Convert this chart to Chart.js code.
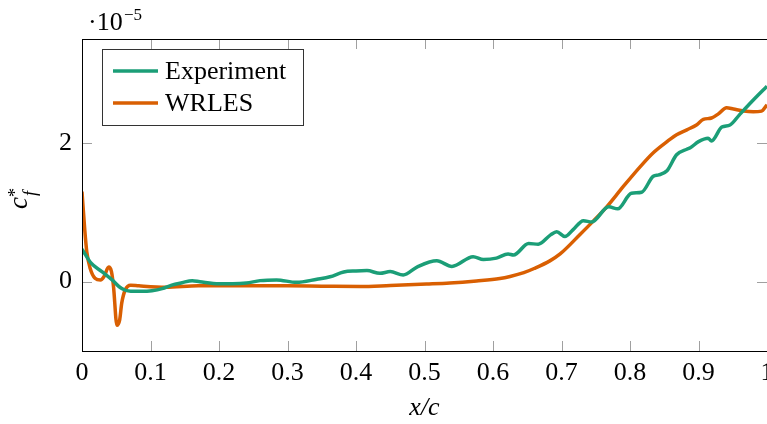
<!DOCTYPE html>
<html><head><meta charset="utf-8">
<script src="https://cdn.jsdelivr.net/npm/chart.js@4/dist/chart.umd.min.js"></script>
<style>html,body{margin:0;padding:0;background:#fff;overflow:hidden}canvas{display:block}</style>
</head><body>
<canvas id="c" width="767" height="424" style="width:767px;height:424px"></canvas>
<script>
// ---- data (c_f^* in units of 1e-5) ----
const xExp = [0,0.013,0.029,0.044,0.058,0.071,0.088,0.102,0.117,0.131,0.146,0.161,0.172,0.2,0.22,0.24,0.26,0.284,0.313,0.343,0.362,0.382,0.40,0.416,0.435,0.45,0.469,0.489,0.518,0.540,0.571,0.586,0.605,0.622,0.63,0.652,0.666,0.684,0.693,0.705,0.717,0.732,0.744,0.769,0.782,0.802,0.817,0.834,0.842,0.854,0.868,0.883,0.888,0.900,0.914,0.919,0.934,0.946,0.96,0.98,1.0];
const yExp = [0.47,0.27,0.145,0.025,-0.1,-0.14,-0.14,-0.13,-0.1,-0.05,-0.015,0.015,0.0,-0.03,-0.03,-0.02,0.015,0.025,-0.01,0.035,0.07,0.14,0.155,0.16,0.12,0.145,0.097,0.21,0.30,0.22,0.36,0.32,0.34,0.40,0.385,0.55,0.54,0.675,0.72,0.65,0.75,0.88,0.86,1.08,1.05,1.275,1.29,1.52,1.54,1.60,1.83,1.91,1.93,2.02,2.07,2.03,2.23,2.26,2.41,2.62,2.82];
const xLes = [0,0.004,0.007,0.012,0.019,0.027,0.032,0.039,0.043,0.046,0.051,0.055,0.058,0.063,0.071,0.083,0.122,0.17,0.245,0.3,0.35,0.406,0.45,0.503,0.537,0.576,0.61,0.625,0.645,0.66,0.683,0.698,0.727,0.747,0.766,0.790,0.815,0.834,0.854,0.868,0.883,0.897,0.907,0.919,0.929,0.941,0.951,0.966,0.980,0.992,1.0];
const yLes = [1.3,0.75,0.43,0.19,0.05,0.025,0.07,0.21,0.145,-0.07,-0.63,-0.55,-0.31,-0.12,-0.05,-0.06,-0.08,-0.06,-0.06,-0.06,-0.065,-0.07,-0.055,-0.035,-0.02,0.01,0.045,0.075,0.13,0.19,0.3,0.4,0.68,0.88,1.08,1.37,1.66,1.86,2.02,2.12,2.19,2.26,2.34,2.36,2.42,2.51,2.49,2.46,2.45,2.46,2.55];
const seriesNames = ['Experiment','WRLES'];
const seriesColors = ['#1b9e77','#d95f02'];
const xTicks = [0,0.1,0.2,0.3,0.4,0.5,0.6,0.7,0.8,0.9,1];
const yTicks = [0,2];

const SERIF = '"Liberation Serif","DejaVu Serif",serif';

const framePlugin = {
  id:'frame',
  beforeDatasetsDraw(chart){
    const {ctx, chartArea:a, scales} = chart;
    ctx.save();
    ctx.strokeStyle = '#a0a0a0'; ctx.lineWidth = 1;
    ctx.beginPath();
    xTicks.forEach(v=>{
      const px = Math.round(scales.x.getPixelForValue(v)) + 0.5;
      ctx.moveTo(px, a.bottom); ctx.lineTo(px, a.bottom-10);
      ctx.moveTo(px, a.top); ctx.lineTo(px, a.top+10);
    });
    yTicks.forEach(v=>{
      const py = Math.round(scales.y.getPixelForValue(v)) + 0.5;
      ctx.moveTo(a.left, py); ctx.lineTo(a.left+10, py);
      ctx.moveTo(a.right, py); ctx.lineTo(a.right-10, py);
    });
    ctx.stroke();
    ctx.restore();
  },
  afterDatasetsDraw(chart){
    const {ctx, chartArea:a} = chart;
    ctx.save();
    ctx.strokeStyle = '#000'; ctx.lineWidth = 1;
    ctx.strokeRect(Math.round(a.left)+0.5, Math.round(a.top)+0.5, Math.round(a.right-a.left), Math.round(a.bottom-a.top));
    ctx.restore();
  },
  afterDraw(chart){
    const {ctx} = chart;
    ctx.save();
    // legend
    ctx.fillStyle = '#fff'; ctx.fillRect(102.5,49.5,201,76);
    ctx.strokeStyle = '#333'; ctx.lineWidth = 1; ctx.strokeRect(102.5,49.5,201,76);
    chart.data.datasets.forEach((ds,i)=>{
      const y = 71 + i*32;
      ctx.strokeStyle = ds.borderColor; ctx.lineWidth = 3.5;
      ctx.beginPath(); ctx.moveTo(113,y); ctx.lineTo(158,y); ctx.stroke();
      ctx.fillStyle = '#000'; ctx.font = '26px '+SERIF; ctx.textBaseline = 'middle'; ctx.textAlign='left';
      ctx.fillText(ds.label, 165, y+1);
    });
    // y axis label c*_f
    ctx.translate(27, 209); ctx.rotate(-Math.PI/2);
    ctx.fillStyle = '#000'; ctx.textBaseline = 'alphabetic'; ctx.textAlign = 'left';
    ctx.font = 'italic 27px '+SERIF; ctx.fillText('c', 0, 0);
    ctx.font = '18px '+SERIF; ctx.fillText('*', 12, -6);
    ctx.font = 'italic 18px '+SERIF; ctx.fillText('f', 13, 9);
    ctx.setTransform(1,0,0,1,0,0);
    // scale exponent
    ctx.font = '26px '+SERIF; ctx.fillText('\u00b710', 88, 30);
    ctx.font = '17px '+SERIF; ctx.fillText('\u22125', 124, 20);
    ctx.restore();
  }
};

new Chart(document.getElementById('c'), {
  type:'line',
  data:{datasets:[
    {label:seriesNames[0], data:xExp.map((x,i)=>({x, y:yExp[i]})), borderColor:seriesColors[0], backgroundColor:seriesColors[0], borderWidth:3.5, pointRadius:0, cubicInterpolationMode:'monotone', fill:false},
    {label:seriesNames[1], data:xLes.map((x,i)=>({x, y:yLes[i]})), borderColor:seriesColors[1], backgroundColor:seriesColors[1], borderWidth:3.5, pointRadius:0, cubicInterpolationMode:'monotone', fill:false}
  ]},
  options:{
    responsive:false, animation:false, devicePixelRatio:1,
    layout:{padding:{top:39,left:0,right:0,bottom:0}},
    plugins:{legend:{display:false}, tooltip:{enabled:false}},
    scales:{
      x:{type:'linear', min:0, max:1,
        grid:{display:false, drawTicks:false}, border:{display:false},
        ticks:{font:{family:SERIF,size:26}, color:'#000', padding:7, maxRotation:0, autoSkip:false,
          callback:v=>String(Math.round(v*10)/10)},
        afterBuildTicks:s=>{ s.ticks = xTicks.map(v=>({value:v})); },
        afterFit:s=>{ s.height = 73; s.paddingLeft = 0; s.paddingRight = 0; },
        title:{display:true, text:'x/c', font:{family:SERIF,size:26,style:'italic'}, color:'#000', padding:{top:0,bottom:0}}
      },
      y:{type:'linear', min:-1, max:3.5,
        grid:{display:false, drawTicks:false}, border:{display:false},
        ticks:{font:{family:SERIF,size:26}, color:'#000', padding:10, autoSkip:false,
          callback:v=>String(v)},
        afterBuildTicks:s=>{ s.ticks = yTicks.map(v=>({value:v})); },
        afterFit:s=>{ s.width = 82; s.paddingTop = 0; s.paddingBottom = 0; }
      }
    }
  },
  plugins:[framePlugin]
});
</script>
</body></html>
